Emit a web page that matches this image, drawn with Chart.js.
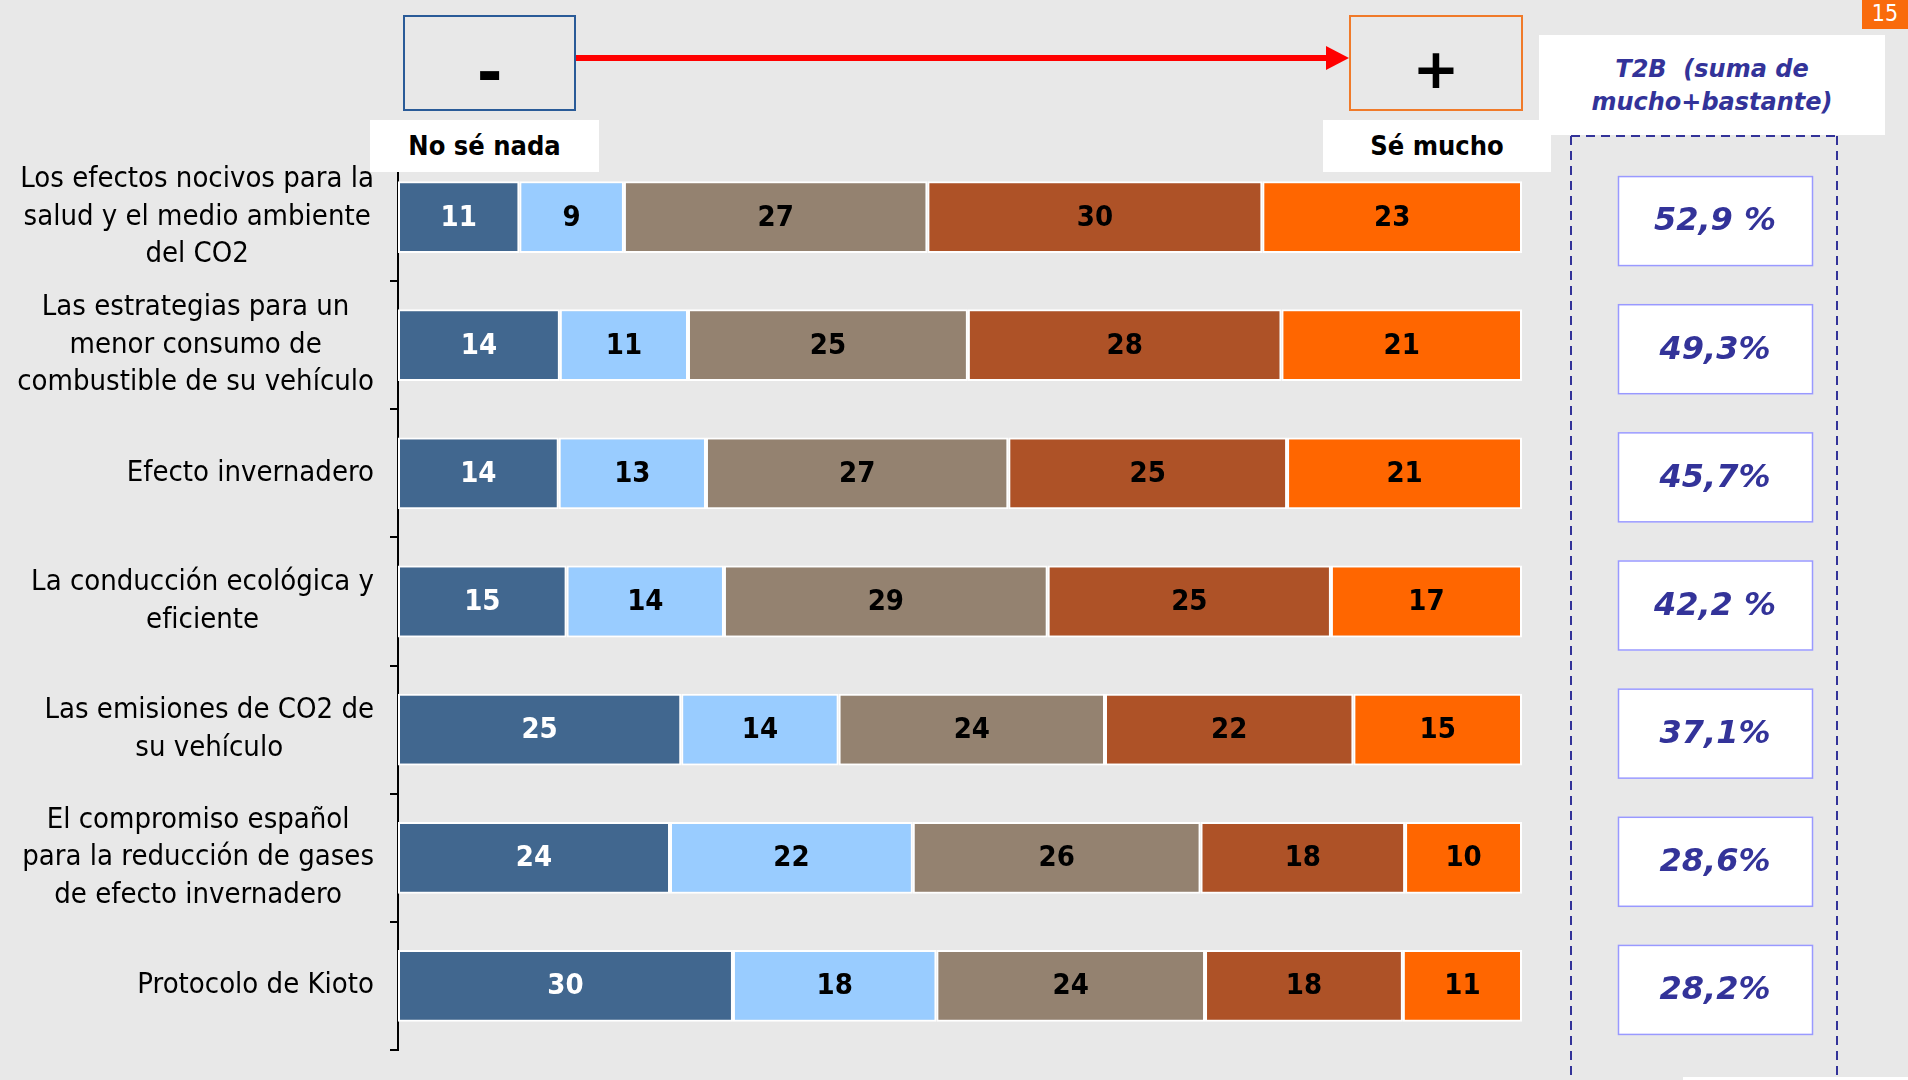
<!DOCTYPE html>
<html lang="es">
<head>
    <meta charset="UTF-8">
    <title>Conocimiento sobre CO2 y medio ambiente</title>
    <script src="https://cdn.jsdelivr.net/npm/chart.js"></script>
    <style>
        body { margin: 0; background: #e8e8e8; overflow: hidden; }
        #wrap { position: relative; width: 1908px; height: 1080px; background: #e8e8e8; }
        #myChart { position: absolute; left: 0; top: 0; }
        .box { position: absolute; box-sizing: border-box; }
        .lbl {
            background: #fff; text-align: center; font-weight: bold; font-size: 27px; color: #000;
            font-family: "DejaVu Sans Condensed", "DejaVu Sans", sans-serif; font-stretch: condensed;
        }
        .t2b {
            background: #fff; color: #333399; font-style: italic; font-weight: bold; font-size: 24px;
            font-family: "DejaVu Sans", sans-serif; text-align: center; line-height: 33px;
        }
    </style>
</head>
<body>
<div id="wrap">
    <canvas id="myChart" width="1908" height="1080"></canvas>

    <!-- escala de conocimiento -->
    <div class="box" style="left:403px;top:15px;width:173px;height:96px;border:2px solid #2a5b98;"></div>
    <div class="box" style="left:403px;top:36px;width:173px;height:70px;text-align:center;line-height:70px;font:bold 62px 'DejaVu Sans',sans-serif;">-</div>
    <div class="box" style="left:1349px;top:36px;width:174px;height:70px;text-align:center;line-height:70px;font:bold 56px 'DejaVu Sans',sans-serif;">+</div>
    <div class="box" style="left:1349px;top:15px;width:174px;height:96px;border:2px solid #f07a2a;"></div>
    <svg class="box" style="left:0;top:0;" width="1908" height="140">
        <line x1="576" y1="58" x2="1330" y2="58" stroke="#ff0000" stroke-width="6"/>
        <polygon points="1326,46 1349,58 1326,70" fill="#ff0000"/>
    </svg>
    <div class="box lbl" style="left:370px;top:120px;width:229px;height:52px;line-height:52px;">No sé nada</div>
    <div class="box lbl" style="left:1323px;top:120px;width:228px;height:52px;line-height:52px;">Sé mucho</div>

    <!-- marco discontinuo T2B -->
    <svg class="box" style="left:0;top:0;" width="1908" height="1080">
        <line x1="1571" y1="136" x2="1837" y2="136" stroke="#333399" stroke-width="2" stroke-dasharray="9 6"/>
        <line x1="1571" y1="136" x2="1571" y2="1080" stroke="#333399" stroke-width="2" stroke-dasharray="9 6"/>
        <line x1="1837" y1="136" x2="1837" y2="1080" stroke="#333399" stroke-width="2" stroke-dasharray="9 6"/>
    </svg>
    <div class="box t2b" style="left:1539px;top:35px;width:346px;height:100px;padding-top:18px;">T2B&nbsp; (suma de<br>mucho+bastante)</div>

    <div class="box" style="left:1862px;top:0;width:46px;height:29px;background:#f96b0c;color:#fff;text-align:center;line-height:29px;font:23px 'DejaVu Sans Condensed','DejaVu Sans',sans-serif;">15</div>
    <div class="box" style="left:1683px;top:1077px;width:225px;height:3px;background:#fff;"></div>
</div>

<script>
    const categories = [
        ['Los efectos nocivos para la', 'salud y el medio ambiente', 'del CO2'],
        ['Las estrategias para un', 'menor consumo de', 'combustible de su vehículo'],
        ['Efecto invernadero'],
        ['La conducción ecológica y', 'eficiente'],
        ['Las emisiones de CO2 de', 'su vehículo'],
        ['El compromiso español', 'para la reducción de gases', 'de efecto invernadero'],
        ['Protocolo de Kioto']
    ];

    const seriesNames = ['No sé nada', '2', '3', '4', 'Sé mucho'];
    const nivel1 = [10.8, 14.4, 14.3, 15.0, 25.2, 24.2, 29.8];
    const nivel2 = [9.3, 11.4, 13.1, 14.0, 14.0, 21.6, 18.1];
    const nivel3 = [27.0, 24.9, 26.9, 28.8, 23.7, 25.6, 23.9];
    const nivel4 = [29.8, 27.9, 24.8, 25.2, 22.1, 18.2, 17.6];
    const nivel5 = [23.1, 21.4, 20.9, 17.0, 15.0, 10.4, 10.6];

    const t2bLabels = ['52,9 %', '49,3%', '45,7%', '42,2 %', '37,1%', '28,6%', '28,2%'];

    const colors = ['#41678f', '#99ccff', '#948270', '#ae5227', '#ff6600'];
    const labelColors = ['#ffffff', '#000000', '#000000', '#000000', '#000000'];

    const condensed = '"DejaVu Sans Condensed", "DejaVu Sans", sans-serif';

    // etiquetas de categoría, valores dentro de las barras y cajas T2B
    const textPlugin = {
        id: 'textPlugin',
        afterDatasetsDraw(chart) {
            const ctx = chart.ctx;
            ctx.save();
            ctx.font = 'bold 29px ' + condensed;
            ctx.textAlign = 'center';
            ctx.textBaseline = 'middle';
            chart.data.datasets.forEach((ds, di) => {
                chart.getDatasetMeta(di).data.forEach((bar, i) => {
                    const p = bar.getCenterPoint();
                    ctx.fillStyle = labelColors[di];
                    ctx.fillText(Math.round(ds.data[i]), p.x, p.y + 1);
                });
            });
            ctx.restore();
        },
        afterDraw(chart) {
            const ctx = chart.ctx;
            const yScale = chart.scales.y;
            const right = chart.chartArea.left - 24;
            ctx.save();
            ctx.font = '29px ' + condensed;
            ctx.fillStyle = '#000';
            ctx.textAlign = 'center';
            ctx.textBaseline = 'middle';
            categories.forEach((lines, i) => {
                const cy = yScale.getPixelForValue(i);
                const w = Math.max(...lines.map(l => ctx.measureText(l).width));
                const cx = right - w / 2;
                lines.forEach((l, k) => {
                    ctx.fillText(l, cx, cy + (k - (lines.length - 1) / 2) * 37.5);
                });
            });

            // cajas T2B
            t2bLabels.forEach((txt, i) => {
                const cy = yScale.getPixelForValue(i) + 4;
                ctx.fillStyle = '#ffffff';
                ctx.fillRect(1618, cy - 45, 195, 90);
                ctx.strokeStyle = '#9999ff';
                ctx.lineWidth = 1.5;
                ctx.strokeRect(1618.5, cy - 44.5, 194, 89);
                ctx.fillStyle = '#333399';
                ctx.font = 'italic bold 32px "DejaVu Sans", sans-serif';
                ctx.fillText(txt, 1715, cy + 1);
            });
            ctx.restore();
        }
    };

    const ctx = document.getElementById('myChart').getContext('2d');
    new Chart(ctx, {
        type: 'bar',
        data: {
            labels: categories,
            datasets: [nivel1, nivel2, nivel3, nivel4, nivel5].map((d, i) => ({
                label: seriesNames[i],
                data: d,
                backgroundColor: colors[i],
                borderColor: '#ffffff',
                borderWidth: 2,
                borderSkipped: false,
                categoryPercentage: 1,
                barPercentage: 0.56
            }))
        },
        options: {
            indexAxis: 'y',
            responsive: false,
            animation: false,
            layout: {
                padding: { left: 390, right: 386, top: 153, bottom: 30 }
            },
            plugins: {
                legend: { display: false },
                tooltip: { enabled: false }
            },
            scales: {
                x: {
                    stacked: true,
                    min: 0,
                    max: 100,
                    display: false
                },
                y: {
                    stacked: true,
                    ticks: { display: false },
                    grid: {
                        drawOnChartArea: false,
                        drawTicks: true,
                        tickLength: 8,
                        color: '#000',
                        lineWidth: 2
                    },
                    border: { display: true, color: '#000', width: 2 },
                    afterFit(scale) { scale.width = 8; }
                }
            }
        },
        plugins: [textPlugin]
    });
</script>
</body>
</html>
